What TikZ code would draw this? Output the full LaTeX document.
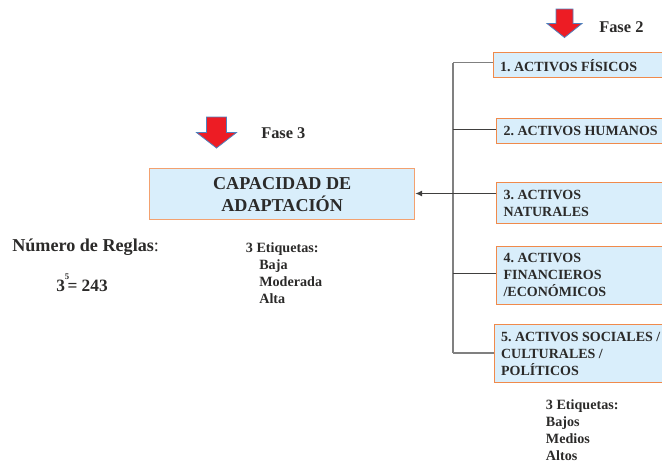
\documentclass[tikz,border=0pt]{standalone}
\usepackage{fontspec}
\usetikzlibrary{arrows.meta}
\setmainfont{Liberation Serif}
\definecolor{boxfill}{HTML}{D9EEFB}
\definecolor{boxline}{HTML}{F08A4B}
\definecolor{ink}{HTML}{2B2A29}
\definecolor{arrowred}{HTML}{ED1C24}
\definecolor{arrowline}{HTML}{4F81BD}
\definecolor{trunk}{HTML}{808080}
\tikzset{
  x=0.75pt,y=-0.75pt,
  every node/.style={text=ink,font=\frenchspacing\bfseries\fontsize{10.5}{12.8}\selectfont},
  boxnode/.style={draw=boxline,fill=boxfill,line width=1pt,anchor=north west,rectangle,align=flush left,inner xsep=5.2pt,inner ysep=0pt,text width=162*0.75pt},
  mainbox/.style={draw=boxline!80!white,fill=boxfill,line width=1pt,anchor=north west,rectangle,align=center,inner sep=0pt,font=\bfseries\fontsize{13.6}{16.4}\selectfont},
  lbl/.style={anchor=base west,inner sep=0pt},
  small/.style={inner sep=0pt,align=left,anchor=north west,font=\bfseries\fontsize{10.6}{12.8}\selectfont},
  redarrow/.style={fill=arrowred,draw=arrowline,line width=0.6pt,line join=miter},
  graylink/.style={draw=trunk,line width=1.3pt},
  darklink/.style={draw=ink!90,line width=0.8pt},
}
\begin{document}
\begin{tikzpicture}
\useasboundingbox (0,0) rectangle (662,462);
% boxes
\node[boxnode,minimum height=25*0.75pt] (b1) at (492.5,52) {1. ACTIVOS FÍSICOS};
\node[boxnode,minimum height=25*0.75pt] (b2) at (496,118) {2. ACTIVOS HUMANOS};
\node[boxnode,minimum height=41*0.75pt] (b3) at (496,182) {3. ACTIVOS\\NATURALES};
\node[boxnode,minimum height=58*0.75pt] (b4) at (496,245.5) {4. ACTIVOS\\FINANCIEROS\\/ECONÓMICOS};
\node[boxnode,minimum height=58*0.75pt] (b5) at (493.5,324) {5. ACTIVOS SOCIALES /\\CULTURALES /\\POLÍTICOS};
\node[mainbox,minimum width=265*0.75pt,minimum height=51*0.75pt] (m) at (149,168) {CAPACIDAD DE\\ADAPTACIÓN};
% connectors
\coordinate (t1) at (453,62.5);
\coordinate (t2) at (453,129.5);
\coordinate (t3) at (453,193.5);
\coordinate (t4) at (453,273.5);
\coordinate (t5) at (453,353);
\draw[graylink] (t1) -- (t5);
\draw[graylink] (t1) -- (t1 -| b1.west);
\draw[graylink] (t5) -- (t5 -| b5.west);
\draw[darklink] (t2) -- (t2 -| b2.west);
\draw[darklink] (t4) -- (t4 -| b4.west);
\coordinate (a3) at (t3 -| m.east);
\draw[darklink,-{Latex[length=5pt,width=4.5pt]}] (t3 -| b3.west) -- (a3);
% red arrows
\draw[redarrow] (556,9) -- (573,9) -- (573,23.5) -- (582,23.5) -- (564.5,37.5) -- (547,23.5) -- (556,23.5) -- cycle;
\draw[redarrow] (206.5,117) -- (226.5,117) -- (226.5,132.5) -- (236.5,132.5) -- (216.5,148) -- (196.5,132.5) -- (206.5,132.5) -- cycle;
% labels
\node[lbl,font=\bfseries\fontsize{12.3}{14}\selectfont] (f2) at (599,32.3) {Fase 2};
\node[lbl,font=\bfseries\fontsize{12.3}{14}\selectfont] (f3) at (261,138) {Fase 3};
\node[lbl,font=\bfseries\fontsize{13.6}{14}\selectfont] (nr) at (12,251.7) {Número de Reglas\textmd{:}};
\node[lbl,font=\bfseries\fontsize{13}{14}\selectfont] (rr) at (56,291) {3\raisebox{0.68em}{\fontsize{6.5}{7}\selectfont 5}\kern-0.1em= 243};
\node[small] (e3) at (245.7,242) {3 Etiquetas:\\\hspace*{10pt}Baja\\\hspace*{10pt}Moderada\\\hspace*{10pt}Alta};
\node[small] (e2) at (545.7,399) {3 Etiquetas:\\Bajos\\Medios\\Altos};
\end{tikzpicture}
\end{document}
